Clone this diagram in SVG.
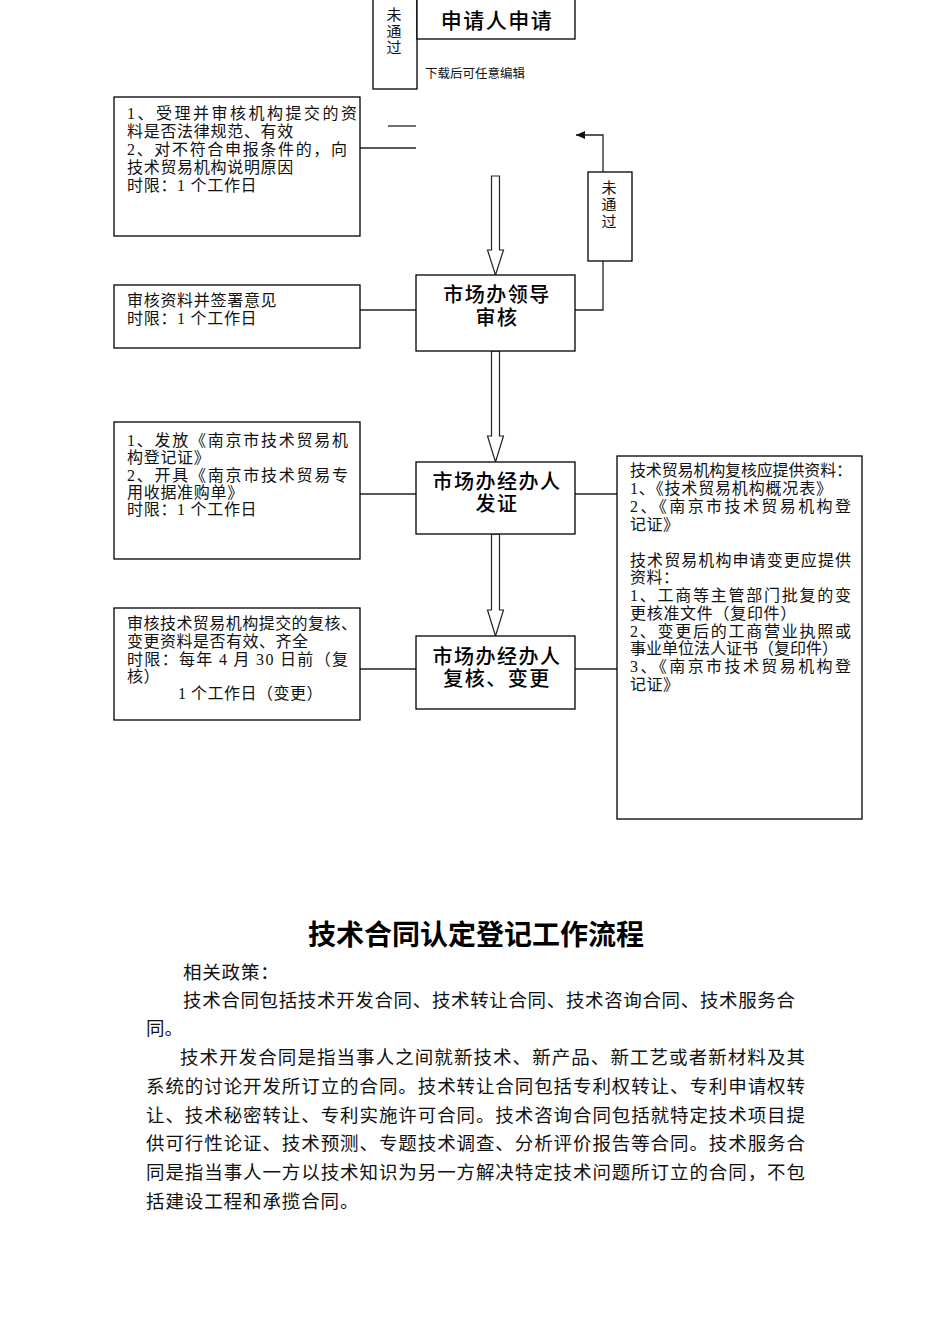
<svg xmlns="http://www.w3.org/2000/svg" width="950" height="1344" viewBox="0 0 950 1344">
<defs>
<style>
.box{fill:#fff;stroke:#000;stroke-width:1.3}
.ln{fill:none;stroke:#222;stroke-width:1.3}
.arr{fill:#fff;stroke:#222;stroke-width:1.2}
.t{font-family:"Liberation Serif","Noto Sans CJK SC",serif;font-size:16px;fill:#111}
.v{font-family:"Liberation Serif","Noto Sans CJK SC",serif;font-size:15px;fill:#111;text-anchor:middle}
.h{font-family:"Liberation Sans","Noto Sans CJK SC",sans-serif;font-size:20px;font-weight:500;fill:#000;text-anchor:middle;letter-spacing:1.5px}
.p{font-family:"Liberation Serif","Noto Sans CJK SC",serif;font-size:18.5px;fill:#111}
.ttl{font-family:"Liberation Sans","Noto Sans CJK SC",sans-serif;font-size:28px;font-weight:bold;fill:#000;text-anchor:middle}
</style>
<marker id="ah" markerWidth="10" markerHeight="8" refX="9" refY="4" orient="auto" markerUnits="userSpaceOnUse">
<path d="M0,0 L9,4 L0,8 Z" fill="#111"/>
</marker>
</defs>
<rect width="950" height="1344" fill="#fff"/>

<g id="connectors">
<line class="ln" x1="388" y1="126" x2="416" y2="126"/>
<line class="ln" x1="360" y1="148" x2="416" y2="148"/>
<line class="ln" x1="360" y1="310" x2="416" y2="310"/>
<polyline class="ln" points="575,310 603,310 603,261"/>
<polyline class="ln" points="603,172 603,135 576,135" marker-end="url(#ah)"/>
<line class="ln" x1="360" y1="494" x2="416" y2="494"/>
<line class="ln" x1="575" y1="494" x2="617" y2="494"/>
<line class="ln" x1="360" y1="669" x2="416" y2="669"/>
<line class="ln" x1="575" y1="669" x2="617" y2="669"/>
<path class="arr" d="M491.5,176 L499.5,176 L499.5,250 L503.5,250 L495.5,275 L487.5,250 L491.5,250 Z"/>
<path class="arr" d="M491.5,351 L499.5,351 L499.5,436 L503.5,436 L495.5,462 L487.5,436 L491.5,436 Z"/>
<path class="arr" d="M491.5,534 L499.5,534 L499.5,610 L503.5,610 L495.5,636 L487.5,610 L491.5,610 Z"/>
</g>

<g id="reject-top">
<rect class="box" x="373" y="-2" width="44" height="91"/>
<text class="v" x="394" y="20">未</text>
<text class="v" x="394" y="37">通</text>
<text class="v" x="394" y="53">过</text>
</g>

<g id="apply">
<rect class="box" x="417" y="-2" width="158" height="41"/>
<text class="h" x="497" y="28" style="font-size:21px">申请人申请</text>
</g>

<g id="note-edit">
<text class="t" x="425" y="78" style="font-size:12.5px">下载后可任意编辑</text>
</g>

<g id="desc-accept">
<rect class="box" x="114" y="97" width="246" height="139"/>
<text class="t" x="127" y="119" textLength="230" lengthAdjust="spacing">1、受理并审核机构提交的资</text>
<text class="t" x="127" y="137" letter-spacing="0.7">料是否法律规范、有效</text>
<text class="t" x="127" y="155" textLength="220" lengthAdjust="spacing">2、对不符合申报条件的，向</text>
<text class="t" x="127" y="173" letter-spacing="0.7">技术贸易机构说明原因</text>
<text class="t" x="127" y="191" letter-spacing="0.7">时限：1 个工作日</text>
</g>

<g id="reject-right">
<rect class="box" x="588" y="172" width="44" height="89"/>
<text class="v" x="609" y="193">未</text>
<text class="v" x="609" y="210">通</text>
<text class="v" x="609" y="227">过</text>
</g>

<g id="leader-review">
<rect class="box" x="416" y="275" width="159" height="76"/>
<text class="h" x="497" y="302">市场办领导</text>
<text class="h" x="497" y="325">审核</text>
</g>

<g id="desc-review">
<rect class="box" x="114" y="285" width="246" height="63"/>
<text class="t" x="127" y="306" letter-spacing="0.7">审核资料并签署意见</text>
<text class="t" x="127" y="324" letter-spacing="0.7">时限：1 个工作日</text>
</g>

<g id="issue">
<rect class="box" x="416" y="462" width="159" height="72"/>
<text class="h" x="497" y="489">市场办经办人</text>
<text class="h" x="497" y="511">发证</text>
</g>

<g id="desc-issue">
<rect class="box" x="114" y="422" width="246" height="137"/>
<text class="t" x="127" y="446" textLength="221" lengthAdjust="spacing">1、发放《南京市技术贸易机</text>
<text class="t" x="127" y="463" letter-spacing="0.7">构登记证》</text>
<text class="t" x="127" y="481" textLength="221" lengthAdjust="spacing">2、开具《南京市技术贸易专</text>
<text class="t" x="127" y="498" letter-spacing="0.7">用收据准购单》</text>
<text class="t" x="127" y="515" letter-spacing="0.7">时限：1 个工作日</text>
</g>

<g id="recheck">
<rect class="box" x="416" y="636" width="159" height="73"/>
<text class="h" x="497" y="664">市场办经办人</text>
<text class="h" x="497" y="686">复核、变更</text>
</g>

<g id="desc-recheck">
<rect class="box" x="114" y="608" width="246" height="112"/>
<text class="t" x="127" y="629" textLength="230" lengthAdjust="spacing">审核技术贸易机构提交的复核、</text>
<text class="t" x="127" y="647" letter-spacing="0.5">变更资料是否有效、齐全</text>
<text class="t" x="127" y="665" textLength="221" lengthAdjust="spacing">时限：每年 4 月 30 日前（复</text>
<text class="t" x="127" y="682" letter-spacing="0.5">核）</text>
<text class="t" x="178" y="699" letter-spacing="0.5">1 个工作日（变更）</text>
</g>

<g id="materials">
<rect class="box" x="617" y="456" width="245" height="363"/>
<text class="t" x="630" y="476" textLength="222" lengthAdjust="spacing">技术贸易机构复核应提供资料：</text>
<text class="t" x="630" y="494" textLength="202" lengthAdjust="spacing">1、《技术贸易机构概况表》</text>
<text class="t" x="630" y="512" textLength="221" lengthAdjust="spacing">2、《南京市技术贸易机构登</text>
<text class="t" x="630" y="530" letter-spacing="0.5">记证》</text>
<text class="t" x="630" y="566" textLength="221" lengthAdjust="spacing">技术贸易机构申请变更应提供</text>
<text class="t" x="630" y="583" letter-spacing="0.5">资料：</text>
<text class="t" x="630" y="601" textLength="221" lengthAdjust="spacing">1、工商等主管部门批复的变</text>
<text class="t" x="630" y="619" letter-spacing="0.7">更核准文件（复印件）</text>
<text class="t" x="630" y="637" textLength="221" lengthAdjust="spacing">2、变更后的工商营业执照或</text>
<text class="t" x="630" y="654" textLength="208" lengthAdjust="spacing">事业单位法人证书（复印件）</text>
<text class="t" x="630" y="672" textLength="221" lengthAdjust="spacing">3、《南京市技术贸易机构登</text>
<text class="t" x="630" y="690" letter-spacing="0.5">记证》</text>
</g>

<g id="contract-text">
<text class="ttl" x="476" y="945">技术合同认定登记工作流程</text>
<text class="p" x="183" y="979" letter-spacing="0.8">相关政策：</text>
<text class="p" x="183" y="1007" textLength="612" lengthAdjust="spacing">技术合同包括技术开发合同、技术转让合同、技术咨询合同、技术服务合</text>
<text class="p" x="146" y="1035">同。</text>
<text class="p" x="180" y="1064" textLength="625" lengthAdjust="spacing">技术开发合同是指当事人之间就新技术、新产品、新工艺或者新材料及其</text>
<text class="p" x="146" y="1093" textLength="659" lengthAdjust="spacing">系统的讨论开发所订立的合同。技术转让合同包括专利权转让、专利申请权转</text>
<text class="p" x="146" y="1122" textLength="659" lengthAdjust="spacing">让、技术秘密转让、专利实施许可合同。技术咨询合同包括就特定技术项目提</text>
<text class="p" x="146" y="1150" textLength="659" lengthAdjust="spacing">供可行性论证、技术预测、专题技术调查、分析评价报告等合同。技术服务合</text>
<text class="p" x="146" y="1179" textLength="659" lengthAdjust="spacing">同是指当事人一方以技术知识为另一方解决特定技术问题所订立的合同，不包</text>
<text class="p" x="146" y="1208" letter-spacing="0.9">括建设工程和承揽合同。</text>
</g>
</svg>
